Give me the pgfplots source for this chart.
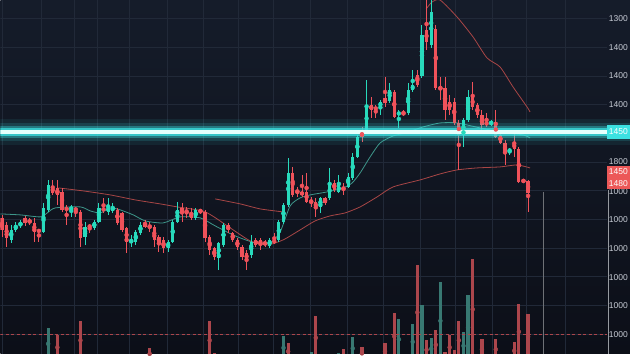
\documentclass[border=0pt]{standalone}
\usepackage{pgfplots}
\pgfplotsset{compat=1.18}
\usepackage{pgfplotstable}
\usepackage{fontspec}
\setmainfont{Liberation Sans}
\definecolor{bgtop}{RGB}{21,28,42}
\definecolor{bgbot}{RGB}{12,15,24}
\definecolor{gridc}{RGB}{33,41,56}
\definecolor{upc}{RGB}{40,218,188}
\definecolor{dnc}{RGB}{240,82,90}
\definecolor{upv}{RGB}{56,120,114}
\definecolor{dnv}{RGB}{172,70,76}
\definecolor{maT}{RGB}{62,150,138}
\definecolor{maR}{RGB}{168,70,70}
\definecolor{cyanL}{RGB}{60,225,225}
\definecolor{coreL}{RGB}{228,255,252}
\definecolor{lbl}{RGB}{200,205,214}
\definecolor{redbox}{RGB}{236,88,88}

% candles: pixel-scale price (axis reversed): body top, body bottom, high, low, u=1 rising
\pgfplotstableread{
i top bot hi lo u
1 218 230 215 237 0
2 225 238 222 247 0
3 230 240 225 243 1
4 225 230 222 232 1
5 223 226 220 228 1
6 218 223 216 226 0
7 220 223 218 225 0
8 223 232 218 242 0
9 230 232 229 242 0
10 208 232 203 233 1
11 185 210 180 212 1
12 187 193 180 195 0
13 188 195 180 205 0
14 192 210 188 212 0
15 208 210 205 225 0
16 207 210 205 217 1
17 208 211 207 217 0
18 212 238 210 247 0
19 227 237 222 245 1
20 225 228 224 233 0
21 222 228 220 230 1
22 208 222 203 223 1
23 208 211 198 213 0
24 207 212 198 215 1
25 207 211 203 213 1
26 210 223 208 225 0
27 213 230 212 232 0
28 228 242 227 253 0
29 240 243 235 247 1
30 232 242 230 245 1
31 225 233 222 235 1
32 223 227 220 228 0
33 225 228 222 232 0
34 227 240 225 247 0
35 237 243 235 252 0
36 240 248 237 253 0
37 242 248 240 252 1
38 222 242 220 243 1
39 210 222 202 223 1
40 208 212 203 222 0
41 210 213 207 218 0
42 213 218 208 220 0
43 210 218 208 220 1
44 210 212 209 214 0
45 212 238 210 242 0
46 237 250 235 255 0
47 248 257 247 260 0
48 243 258 242 270 1
49 225 245 223 247 1
50 225 230 223 233 0
51 233 240 232 242 0
52 240 247 238 250 0
53 247 257 245 260 0
54 253 260 250 270 0
55 242 255 235 258 1
56 240 245 238 247 0
57 240 245 238 250 0
58 242 245 240 247 0
59 240 246 238 248 1
60 240 243 233 244 0
61 222 240 220 242 1
62 205 222 203 224 1
63 173 205 158 207 1
64 173 195 167 197 0
65 190 193 187 197 0
66 192 195 175 197 0
67 192 202 173 203 0
68 200 203 197 207 0
69 202 208 198 217 0
70 198 207 197 213 1
71 198 203 197 205 0
72 183 198 168 200 1
73 183 190 180 192 0
74 185 192 175 193 1
75 187 190 183 195 0
76 177 187 173 188 1
77 157 178 153 180 1
78 137 157 135 158 1
79 132 137 127 142 0
80 105 132 80 133 1
81 105 110 97 118 0
82 107 110 105 118 0
83 102 107 100 115 1
84 98 103 77 107 0
85 90 101 83 103 1
86 92 117 90 118 0
87 112 115 110 128 1
88 112 115 110 116 0
89 90 113 83 115 1
90 85 90 70 92 1
91 75 85 70 87 0
92 35 76 25 78 1
93 30 42 -2 50 0
94 12 45 -2 48 1
95 29 88 25 90 0
96 87 89 77 100 0
97 88 110 77 120 0
98 102 110 95 115 0
99 102 123 98 125 0
100 123 135 120 170 0
101 120 135 118 147 1
102 97 120 90 122 1
103 97 107 82 110 0
104 105 115 103 118 0
105 115 125 110 133 0
106 122 125 113 127 0
107 122 124 120 126 1
108 122 137 110 138 0
109 135 143 133 144 0
110 143 153 140 165 0
111 149 152 148 155 1
112 143 149 130 157 0
113 149 182 147 183 0
114 180 182 179 183 0
115 181 193 180 212 0
}\candles

\pgfplotstableread{
i top u
11 328 1
13 335 0
18 321 0
33 348 0
46 321 0
47 353 0
62 336 1
63 343 0
68 352 1
69 316 0
74 353 1
75 349 0
77 337 1
79 347 0
84 343 0
86 313 0
87 319 1
90 324 1
91 265 0
92 305 1
93 340 0
94 338 1
95 330 0
96 282 1
97 352 0
98 335 0
99 350 0
100 321 0
101 332 1
102 295 1
103 259 0
105 339 0
108 339 0
112 342 0
113 304 0
115 314 0
}\vol

\pgfplotsset{
  candle/.style n args={3}{only marks, mark=none, color=#1,
    restrict expr to domain={\thisrow{u}}{#2},
    error bars/.cd, y dir=both, y explicit, error mark=none,
    error bar style={line width=#3, color=#1}, /pgfplots/.cd},
}

\begin{document}
\begin{tikzpicture}
\shade[top color=bgtop, bottom color=bgbot] (0,0) rectangle (630pt,354pt);
\begin{axis}[
  at={(0,0)}, anchor=south west,
  scale only axis, width=630pt, height=354pt,
  xmin=0, xmax=630, ymin=0, ymax=354, y dir=reverse,
  axis lines=none, ticks=none,
]
% grid
\foreach \gx in {2,41,74,97,129,167,203,238,273,310,347,383,420,455,492,526,565}{
  \edef\tmp{\noexpand\draw[gridc, line width=0.6pt] (axis cs:\gx,0) -- (axis cs:\gx,354);}\tmp
}
\foreach \gy in {18.5,47.2,75.9,104.6,133.3,162,190.7,219.4,248.1,276.8,305.5,334.2}{
  \edef\tmp{\noexpand\draw[gridc, line width=0.6pt] (axis cs:0,\gy) -- (axis cs:607,\gy);}\tmp
}
% volume
\addplot[candle={upv}{0.5:1.5}{3.2pt}] table[x expr=1.7+4.617*(\thisrow{i}-1), y expr=(\thisrow{top}+360)/2, y error expr=(360-\thisrow{top})/2] {\vol};
\addplot[candle={dnv}{-0.5:0.5}{3.2pt}] table[x expr=1.7+4.617*(\thisrow{i}-1), y expr=(\thisrow{top}+360)/2, y error expr=(360-\thisrow{top})/2] {\vol};
% dashed red level and vertical lines
\draw[dnv, line width=0.7pt, dash pattern=on 3pt off 2.5pt] (axis cs:0,335) -- (axis cs:607,335);
\draw[black!45!lbl, line width=0.5pt] (axis cs:543,192) -- (axis cs:543,354);
\draw[black!25!lbl, line width=0.6pt] (axis cs:608,190) -- (axis cs:608,354);
% moving averages
\addplot[maT, line width=0.8pt, smooth, tension=0.4] coordinates {
(0,214) (20,215) (40,217) (47,213) (55,208) (80,207) (90,211) (100,213) (110,208) (120,210) (133,215) (145,221) (163,223) (180,217) (200,218) (215,226) (235,236) (255,243) (270,243) (280,232) (290,206) (300,198) (310,195) (327,192) (343,188) (352,183) (360,173) (370,157) (380,143) (393,136) (405,133) (423,127) (440,123) (457,123) (480,128) (500,132) (523,135) (530,138)};
\addplot[maR, line width=0.8pt, smooth, tension=0.4] coordinates {
(58,188) (83,191) (110,195) (135,200) (160,204) (177,207) (205,212) (230,228) (250,241) (267,245) (283,240) (300,230) (315,221) (330,216) (345,213) (360,207) (377,197) (393,187) (420,180) (440,174) (457,170) (477,168) (500,167) (517,165) (530,168)};
\addplot[maR, line width=0.8pt, smooth, tension=0.4] coordinates {
(215,199) (240,204) (260,209) (283,212)};
\addplot[maR, line width=0.8pt, smooth, tension=0.4] coordinates {
(426,9) (432,2) (440,0) (457,17) (473,37) (487,58) (500,67) (513,87) (527,107) (530,112)};
% candles: wicks then bodies
\addplot[candle={upc}{0.5:1.5}{0.9pt}] table[x expr=1.7+4.617*(\thisrow{i}-1), y expr=(\thisrow{hi}+\thisrow{lo})/2, y error expr=(\thisrow{lo}-\thisrow{hi})/2] {\candles};
\addplot[candle={dnc}{-0.5:0.5}{0.9pt}] table[x expr=1.7+4.617*(\thisrow{i}-1), y expr=(\thisrow{hi}+\thisrow{lo})/2, y error expr=(\thisrow{lo}-\thisrow{hi})/2] {\candles};
\addplot[candle={upc}{0.5:1.5}{3.2pt}] table[x expr=1.7+4.617*(\thisrow{i}-1), y expr=(\thisrow{top}+\thisrow{bot})/2, y error expr={max((\thisrow{bot}-\thisrow{top})/2,0.7)}] {\candles};
\addplot[candle={dnc}{-0.5:0.5}{3.2pt}] table[x expr=1.7+4.617*(\thisrow{i}-1), y expr=(\thisrow{top}+\thisrow{bot})/2, y error expr={max((\thisrow{bot}-\thisrow{top})/2,0.7)}] {\candles};
% glowing level line
\draw[cyanL, opacity=0.08, line width=26pt] (axis cs:0,132) -- (axis cs:630,132);
\draw[cyanL, opacity=0.15, line width=18pt] (axis cs:0,132) -- (axis cs:630,132);
\draw[cyanL, opacity=0.35, line width=12pt] (axis cs:0,132) -- (axis cs:607,132);
\draw[cyanL, opacity=0.75, line width=8pt] (axis cs:0,132) -- (axis cs:607,132);
\draw[coreL, line width=4.6pt] (axis cs:0,132) -- (axis cs:607,132);
% price labels
\foreach \ly/\lt in {18.5/1300,47.2/1400,75.9/1400,104.6/1400,161.5/1800,192/1000,220/1000,249/1000,277.5/1000,306/1000,335/1000}{
  \edef\tmp{\noexpand\node[anchor=east, inner sep=0pt, text=lbl, font=\noexpand\fontsize{8.5}{10}\noexpand\selectfont] at (axis cs:628,\ly) {\lt};}\tmp
}
\fill[cyanL] (axis cs:607,125) rectangle (axis cs:630,139);
\node[anchor=east, inner sep=0pt, text=white, font=\fontsize{8.5}{10}\selectfont] at (axis cs:628,132) {1450};
\fill[redbox] (axis cs:607,166) rectangle (axis cs:630,177.5);
\node[anchor=east, inner sep=0pt, text=white, font=\fontsize{8.5}{10}\selectfont] at (axis cs:628,171.8) {1450};
\fill[redbox] (axis cs:607,177.5) rectangle (axis cs:630,189);
\node[anchor=east, inner sep=0pt, text=white, font=\fontsize{8.5}{10}\selectfont] at (axis cs:628,183.2) {1480};
\end{axis}
\end{tikzpicture}
\end{document}
